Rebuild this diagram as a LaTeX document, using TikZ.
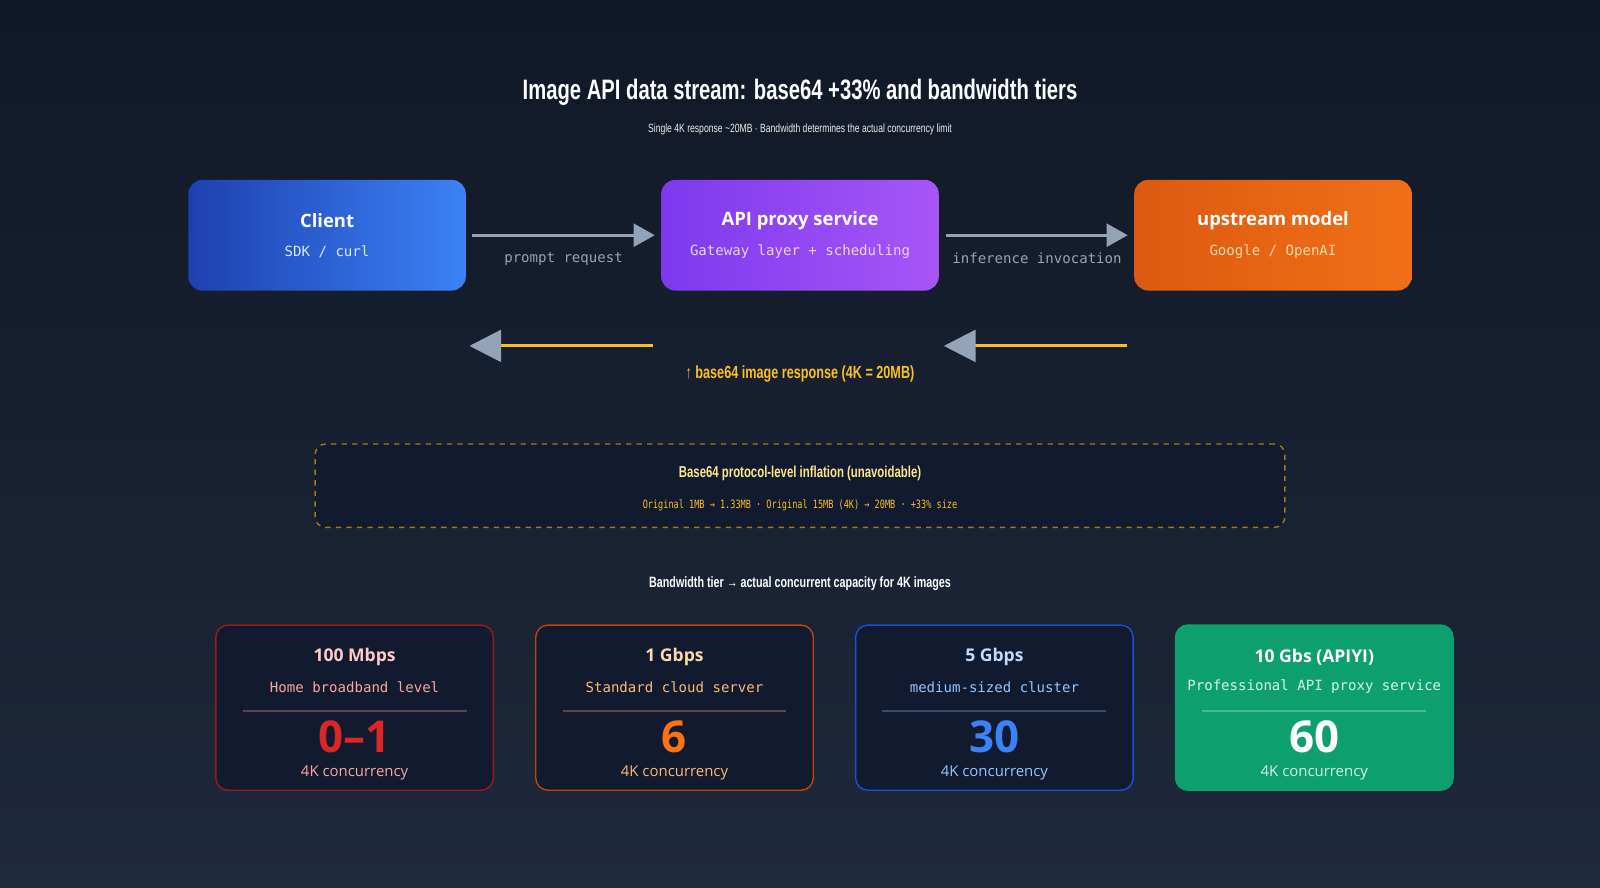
\documentclass[tikz,border=0pt]{standalone}
\usepackage{fontspec}
\setmainfont{Open Sans}
\setmonofont{DejaVu Sans Mono}
\newfontfamily\narrowfont{Liberation Sans}[FakeStretch=0.72]
\usetikzlibrary{arrows.meta,positioning,calc}

\definecolor{bgtop}{HTML}{111827}
\definecolor{bgbot}{HTML}{1E293B}
\definecolor{arrowgray}{HTML}{94A3B8}
\definecolor{amber}{HTML}{FBBF24}
\definecolor{amberlight}{HTML}{FDE68A}
\definecolor{amberdash}{HTML}{A47A1A}
\definecolor{carddark}{HTML}{111A2E}
\definecolor{clientA}{HTML}{1E40AF}
\definecolor{clientB}{HTML}{3B82F6}
\definecolor{clientT}{HTML}{DBEAFE}
\definecolor{proxyA}{HTML}{7C3AED}
\definecolor{proxyB}{HTML}{A855F7}
\definecolor{proxyT}{HTML}{E9D5FF}
\definecolor{upA}{HTML}{DC5A10}
\definecolor{upB}{HTML}{F26F18}
\definecolor{upT}{HTML}{FED7AA}

\begin{document}
\begin{tikzpicture}[x=0.02041cm, y=-0.02041cm,
			every node/.style={align=center, inner sep=0pt},
			box/.style={rounded corners=8pt, minimum width=158pt, minimum height=63pt},
			boxtitle/.style={text=white, font=\bfseries\fontsize{10.5}{12}\selectfont},
			boxsub/.style={font=\ttfamily\fontsize{8}{10}\selectfont},
			flow/.style={draw=arrowgray, line width=1.8pt, -{Triangle[length=12pt, width=13pt]}},
			back/.style={draw=amber, line width=1.8pt, -{Triangle[length=18pt, width=18pt, color=arrowgray]}},
			card/.style={rounded corners=7pt, minimum width=158pt, minimum height=94pt, line width=0.8pt},
			cardtitle/.style={font=\bfseries\fontsize{10}{12}\selectfont},
			cardsub/.style={font=\ttfamily\fontsize{8}{10}\selectfont},
			bignum/.style={font=\bfseries\fontsize{25}{28}\selectfont},
			cardfoot/.style={font=\fontsize{8.5}{10}\selectfont}
		]

		% background
		\fill[top color=bgtop, bottom color=bgbot] (0,0) rectangle (1568,870);
		\useasboundingbox (0,0) rectangle (1568,870);

		% heading
		\node[text=white, font=\narrowfont\bfseries\fontsize{16}{18}\selectfont] (title) at (784,90) {Image API data stream: base64 +33\% and bandwidth tiers};
		\node[text=white!85!gray, font=\narrowfont\fontsize{6.8}{8}\selectfont] (subtitle) at (784,127) {Single 4K response \textasciitilde20MB · Bandwidth determines the actual concurrency limit};

		% top row
		\node[box, left color=clientA, right color=clientB] (client) at (320.5,230.5) {};
		\node[box, left color=proxyA, right color=proxyB] (proxy) at (784,230.5) {};
		\node[box, left color=upA, right color=upB] (upstream) at (1247.5,230.5) {};

		\node[boxtitle] at (320.5,216) {Client};
		\node[boxsub, text=clientT] at (320.5,247) {SDK / curl};
		\node[boxtitle] at (784,216) {API proxy service};
		\node[boxsub, text=proxyT] at (784,247) {Gateway layer + scheduling};
		\node[boxtitle] at (1247.5,216) {upstream model};
		\node[boxsub, text=upT] at (1247.5,247) {Google / OpenAI};

		\draw[flow] ($(client.east)+(6,0)$) -- node[below=9pt, boxsub, text=arrowgray] {prompt request} ($(proxy.west)+(-6,0)$);
		\draw[flow] ($(proxy.east)+(7,0)$) -- node[below=9pt, boxsub, text=arrowgray] {inference invocation} ($(upstream.west)+(-6,0)$);

		% return path
		\coordinate (r1) at (1104,339);
		\coordinate (r2) at (925,339);
		\coordinate (r3) at (640,339);
		\coordinate (r4) at (460,339);
		\draw[back] (r1) -- (r2);
		\draw[back] (r3) -- (r4);
		\node[text=amber, font=\narrowfont\bfseries\fontsize{10}{12}\selectfont] (resp) at (784,367) {↑ base64 image response (4K = 20MB)};

		% inflation note
		\node[draw=amberdash, dashed, fill=carddark, rounded corners=6pt, minimum width=552pt, minimum height=47.5pt, line width=0.8pt] (note) at (784,476) {};
		\node[text=amberlight, font=\narrowfont\bfseries\fontsize{9}{11}\selectfont] at (784,464) {Base64 protocol-level inflation (unavoidable)};
		\node[text=amber, font=\ttfamily\fontsize{6.5}{8}\selectfont, xscale=0.75] at (784,495) {Original 1MB → 1.33MB · Original 15MB (4K) → 20MB · +33\% size};

		\node[text=white, font=\narrowfont\bfseries\fontsize{8.5}{10}\selectfont] (tierhead) at (784,572) {Bandwidth tier → actual concurrent capacity for 4K images};

		% bandwidth cards
		\foreach \cx/\edge/\fillc/\tc/\sc/\nc/\rate/\desc/\num/\i in {
				347.5/991B1B/111A2E/FECACA/FCA5A5/DC2626/100 Mbps/Home broadband level/0--1/1,
				661/C2410C/111A2E/FED7AA/FDBA74/F97316/1 Gbps/Standard cloud server/6/2,
				974.5/1D4ED8/111A2E/BFDBFE/93C5FD/3B82F6/5 Gbps/medium-sized cluster/30/3,
				1288/0E9F6E/0E9F6E/FFFFFF/D1FAE5/FFFFFF/10 Gbs (APIYI)/Professional API proxy service/60/4}{
				\definecolor{cedge}{HTML}{\edge}
				\definecolor{cfill}{HTML}{\fillc}
				\definecolor{ctitle}{HTML}{\tc}
				\definecolor{csub}{HTML}{\sc}
				\definecolor{cnum}{HTML}{\nc}
				\node[card, draw=cedge, fill=cfill] (card\i) at (\cx,693.5) {};
				\node[cardtitle, text=ctitle] at (\cx,644) {\rate};
				\node[cardsub, text=csub] at (\cx,673) {\desc};
				\draw[csub, opacity=0.3, line width=1pt] ($(card\i.west)+(27,3)$) -- ($(card\i.east)+(-27,3)$);
				\node[bignum, text=cnum] at (\cx,722) {\num};
				\node[cardfoot, text=csub] at (\cx,757) {4K concurrency};
			}
	\end{tikzpicture}
\end{document}
